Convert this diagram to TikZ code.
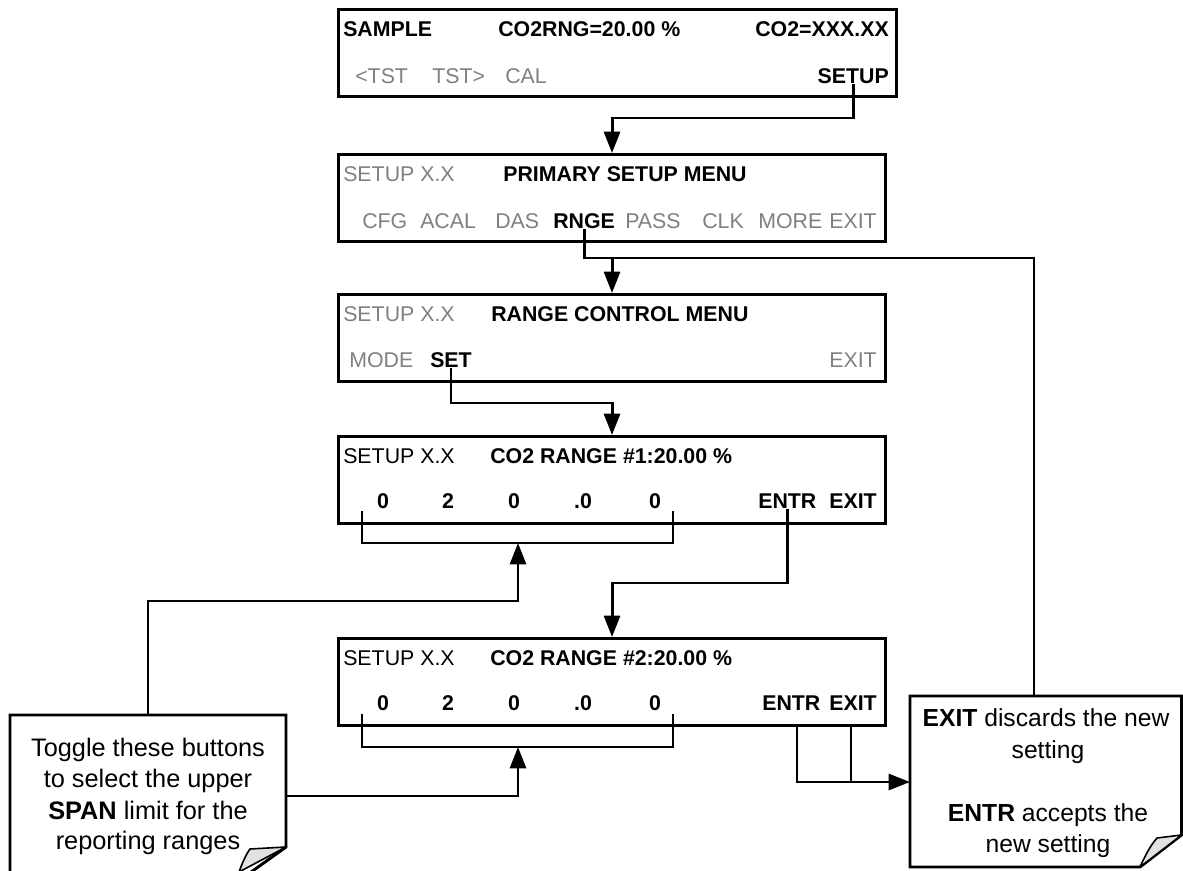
\documentclass[tikz,border=0pt]{standalone}
\usepackage{fontspec}
\setmainfont{Liberation Sans}
\usetikzlibrary{arrows.meta}
\definecolor{greytxt}{RGB}{128,128,128}
\definecolor{flapgrey}{RGB}{226,226,226}
\tikzset{
  scr/.style={draw, line width=2.3pt, rectangle, inner sep=0pt, minimum height=65.25pt, anchor=north west},
  lbl/.style={inner sep=0pt, font=\fontsize{16}{19}\selectfont, text height=11.5pt, text depth=0pt},
  on/.style={lbl, font=\fontsize{16}{19}\selectfont\bfseries},
  off/.style={lbl, text=greytxt},
  conn/.style={line width=2.2pt},
  arr/.style={conn, -{Triangle[length=16pt,width=12pt]}},
  ltxt/.style={inner sep=0pt, font=\fontsize{19}{23}\selectfont, text height=13.6pt, text depth=0pt},
  rtxt/.style={inner sep=0pt, font=\fontsize{18.5}{23}\selectfont, text height=13.2pt, text depth=0pt},
  callout/.style={draw, line width=2.2pt, fill=white, line join=miter},
  flap/.style={draw, line width=1.2pt, fill=flapgrey, line join=round},
}
\begin{document}
\begin{tikzpicture}[x=0.75pt,y=-0.75pt]
\clip (0,0) rectangle (1183,871);
\fill[white] (0,0) rectangle (1183,871);

% screens
\node[scr, minimum width=418.5pt] (b1) at (337,8) {};
\node[scr, minimum width=410.25pt] (b2) at (337,153) {};
\node[scr, minimum width=410.25pt] (b3) at (337,293) {};
\node[scr, minimum width=410.25pt] (b4) at (337,435) {};
\node[scr, minimum width=410.25pt] (b5) at (337,637) {};

% screen 1
\node[on, anchor=west] (t1a) at (343,29) {SAMPLE};
\node[on, anchor=west] (t1b) at (498,29) {CO2RNG=20.00 \%};
\node[on, anchor=east] (t1c) at (889,29) {CO2=XXX.XX};
\node[off, anchor=west] (t1d) at (355,76) {<TST};
\node[off, anchor=west] (t1e) at (432,76) {TST>};
\node[off, anchor=west] (t1f) at (505,76) {CAL};
\node[on, anchor=east] (t1setup) at (889,76) {SETUP};

% screen 2
\node[off, anchor=west] (t2a) at (343,174) {SETUP X.X};
\node[on, anchor=west] (t2b) at (503,174) {PRIMARY SETUP MENU};
\node[off, anchor=west] (t2c) at (362,221) {CFG};
\node[off, anchor=west] (t2d) at (420,221) {ACAL};
\node[off, anchor=west] (t2e) at (495,221) {DAS};
\node[on, anchor=west] (t2rnge) at (553,221) {RNGE};
\node[off, anchor=west] (t2f) at (625,221) {PASS};
\node[off, anchor=west] (t2g) at (702,221) {CLK};
\node[off, anchor=west] (t2h) at (758,221) {MORE};
\node[off, anchor=east] (t2i) at (877,221) {EXIT};

% screen 3
\node[off, anchor=west] (t3a) at (343,314) {SETUP X.X};
\node[on, anchor=west] (t3b) at (491,314) {RANGE CONTROL MENU};
\node[off, anchor=west] (t3c) at (349,360) {MODE};
\node[on, anchor=west] (t3set) at (430,360) {SET};
\node[off, anchor=east] (t3d) at (877,360) {EXIT};

% screen 4
\node[lbl, anchor=west] (t4a) at (343,456) {SETUP X.X};
\node[on, anchor=west] (t4b) at (490,456) {CO2 RANGE \#1:20.00 \%};
\node[on] (t4d1) at (383,501) {0};
\node[on] (t4d2) at (448,501) {2};
\node[on] (t4d3) at (514,501) {0};
\node[on] (t4d4) at (583,501) {.0};
\node[on] (t4d5) at (655,501) {0};
\node[on, anchor=west] (t4entr) at (758,501) {ENTR};
\node[on, anchor=east] (t4exit) at (877,501) {EXIT};

% screen 5
\node[lbl, anchor=west] (t5a) at (343,658) {SETUP X.X};
\node[on, anchor=west] (t5b) at (490,658) {CO2 RANGE \#2:20.00 \%};
\node[on] (t5d1) at (383,703) {0};
\node[on] (t5d2) at (448,703) {2};
\node[on] (t5d3) at (514,703) {0};
\node[on] (t5d4) at (583,703) {.0};
\node[on] (t5d5) at (655,703) {0};
\node[on, anchor=west] (t5entr) at (762,703) {ENTR};
\node[on, anchor=east] (t5exit) at (877,703) {EXIT};

% helper coordinates
\coordinate (h1) at (0,118);
\coordinate (h2) at (0,258);
\coordinate (h3) at (0,403);
\coordinate (h4) at (0,583);
\coordinate (h4b) at (0,601);
\coordinate (h6) at (0,782);
\coordinate (br4a) at (362,511);
\coordinate (br4b) at (673,511);
\coordinate (br4m) at (518,543);
\coordinate (br5a) at (362,714);
\coordinate (br5b) at (673,714);
\coordinate (br5m) at (518,747);
\coordinate (e5) at (797,724);
\coordinate (x5) at (851,724);
\coordinate (lcN) at (148,715);
\coordinate (lcE) at (286,796);
\coordinate (rcN) at (1034,696);
\coordinate (rcW) at (910,782);

% connectors
\draw[arr] (t1setup.south) -- (t1setup.south |- h1) -| (b2.north);
\draw[conn] (t2rnge.south) -- (t2rnge.south |- h2) -| (rcN);
\draw[arr] (b3.north |- h2) -- (b3.north);
\draw[arr] (t3set.south) -- (t3set.south |- h3) -| (b4.north);
\draw[arr] (t4entr.south) -- (t4entr.south |- h4) -| (b5.north);
\draw[conn] (br4a) |- (br4m) -| (br4b);
\draw[arr] (lcN) |- (br4m |- h4b) -- (br4m);
\draw[conn] (br5a) |- (br5m) -| (br5b);
\draw[arr] (lcE) -- (lcE -| br5m) -- (br5m);
\draw[conn] (e5) |- (x5 |- h6);
\draw[arr] (x5) -- (x5 |- h6) -- (rcW);

% left callout
\draw[callout] (10,715) -- (286,715) -- (286,847) -- (240,880) -- (240,890) -- (10,890) -- cycle;
\draw[flap] (286,847) -- (250,849) .. controls (245,856) and (242,864) .. (239,872) -- cycle;
\node[ltxt] (lc1) at (148,747) {Toggle these buttons};
\node[ltxt] (lc2) at (148,778) {to select the upper};
\node[ltxt] (lc3) at (148,810) {\textbf{SPAN} limit for the};
\node[ltxt] (lc4) at (148,840) {reporting ranges};

% right callout
\draw[callout] (910,696) -- (1181.5,696) -- (1181.5,835) -- (1140,867) -- (910,867) -- cycle;
\draw[flap] (1181.5,835) -- (1157,838) .. controls (1150,846) and (1145,856) .. (1140,867) -- cycle;
\node[rtxt] (rc1) at (1046,718) {\textbf{EXIT} discards the new};
\node[rtxt] (rc2) at (1048,750) {setting};
\node[rtxt] (rc3) at (1048,813) {\textbf{ENTR} accepts the};
\node[rtxt] (rc4) at (1048,844) {new setting};
\end{tikzpicture}
\end{document}
